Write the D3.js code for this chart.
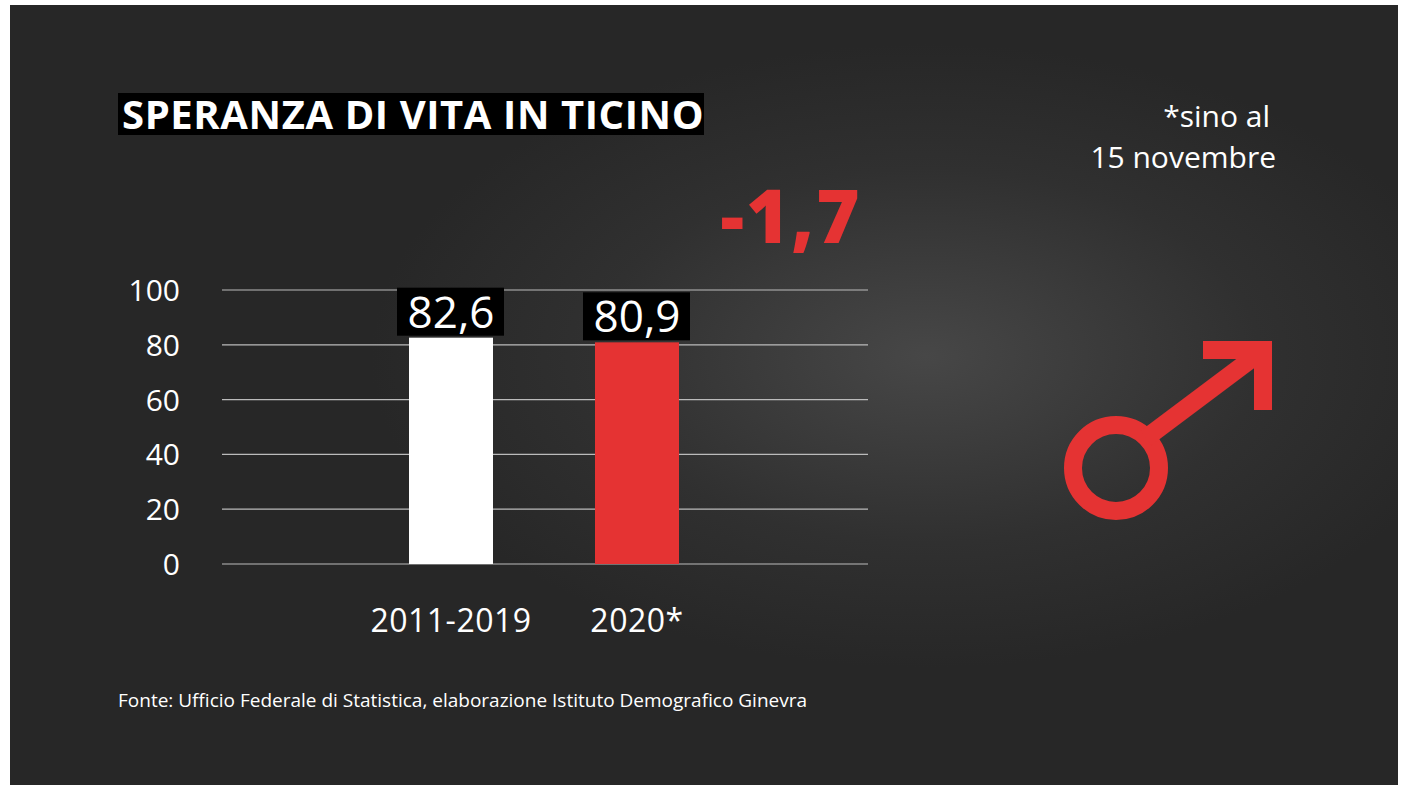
<!DOCTYPE html>
<html>
<head>
<meta charset="utf-8">
<script src="https://cdn.jsdelivr.net/npm/d3@7"></script>
<style>
  body { margin: 0; background: #fff; }
  text { font-family: "Open Sans", sans-serif; }
</style>
</head>
<body>
<div id="chart"></div>
<script>
// values
const categories = ['2011-2019', '2020*'];
const values = [82.6, 80.9];
const valueLabels = ['82,6', '80,9'];
const barColors = ['#ffffff', '#e53333'];
const yTicks = [0, 20, 40, 60, 80, 100];

const W = 1408, H = 792;
const svg = d3.select('#chart').append('svg').attr('width', W).attr('height', H);

// dark backdrop with soft light patch
const defs = svg.append('defs');
const grad = defs.append('radialGradient').attr('id', 'glow')
    .attr('cx', 0.66).attr('cy', 0.45).attr('r', 0.4);
grad.append('stop').attr('offset', '0%').attr('stop-color', '#474747');
grad.append('stop').attr('offset', '60%').attr('stop-color', '#303030');
grad.append('stop').attr('offset', '100%').attr('stop-color', '#272727');
svg.append('rect').attr('x', 10).attr('y', 5).attr('width', 1388).attr('height', 780).attr('fill', 'url(#glow)');

// title
svg.append('rect').attr('x', 118).attr('y', 93).attr('width', 586).attr('height', 42).attr('fill', '#000');
svg.append('text').attr('x', 122).attr('y', 129).attr('fill', '#fff')
    .attr('font-size', 40).attr('font-weight', 'bold').attr('letter-spacing', 0.6)
    .text('SPERANZA DI VITA IN TICINO');

const y = d3.scaleLinear().domain([0, 100]).range([564, 290]);
const xc = d3.scaleOrdinal().domain(categories).range([451, 637]);
const bw = 84;

// grid + ticks
const g = svg.append('g');
g.selectAll('line.grid').data(yTicks).join('line')
    .attr('x1', 222).attr('x2', 868).attr('y1', d => y(d)).attr('y2', d => y(d))
    .attr('stroke', '#bbb').attr('stroke-width', 1.2);
g.selectAll('text.tick').data(yTicks).join('text')
    .attr('x', 180).attr('y', d => y(d) + 11).attr('text-anchor', 'end')
    .attr('fill', '#fff').attr('font-size', 30).text(d => d);

// bars
g.selectAll('rect.bar').data(categories).join('rect')
    .attr('x', d => xc(d) - bw / 2).attr('width', bw)
    .attr('y', (d, i) => y(values[i])).attr('height', (d, i) => 564 - y(values[i]))
    .attr('fill', (d, i) => barColors[i]);

// value labels
categories.forEach((c, i) => {
  const top = y(values[i]);
  svg.append('rect').attr('x', xc(c) - 54).attr('y', top - 50).attr('width', 107).attr('height', 48).attr('fill', '#000');
  svg.append('text').attr('x', xc(c)).attr('y', top - 10).attr('text-anchor', 'middle')
      .attr('fill', '#fff').attr('font-size', 44).text(valueLabels[i]);
});

// categories
g.selectAll('text.cat').data(categories).join('text')
    .attr('x', d => xc(d)).attr('y', 632).attr('text-anchor', 'middle')
    .attr('fill', '#fff').attr('font-size', 32).attr('letter-spacing', 0.5).text(d => d);

// difference
svg.append('text').attr('x', 791).attr('y', 243).attr('text-anchor', 'middle')
    .attr('fill', '#e53333').attr('font-size', 74).attr('font-weight', 800).attr('letter-spacing', 2).text('-1,7');

// note
svg.append('text').attr('x', 1270).attr('y', 127).attr('text-anchor', 'end')
    .attr('fill', '#fff').attr('font-size', 30).text('*sino al');
svg.append('text').attr('x', 1276).attr('y', 168).attr('text-anchor', 'end')
    .attr('fill', '#fff').attr('font-size', 30).text('15 novembre');

// male symbol
const red = '#e53333';
svg.append('circle').attr('cx', 1116).attr('cy', 468).attr('r', 43)
    .attr('fill', 'none').attr('stroke', red).attr('stroke-width', 18);
svg.append('line').attr('x1', 1146).attr('y1', 438).attr('x2', 1258).attr('y2', 354)
    .attr('stroke', red).attr('stroke-width', 18);
svg.append('path').attr('d', 'M1203,341 L1272,341 L1272,410 L1254,410 L1254,359 L1203,359 Z').attr('fill', red);

// source
svg.append('text').attr('x', 118).attr('y', 707).attr('fill', '#fff').attr('font-size', 19)
    .text('Fonte: Ufficio Federale di Statistica, elaborazione Istituto Demografico Ginevra');
</script>
</body>
</html>
